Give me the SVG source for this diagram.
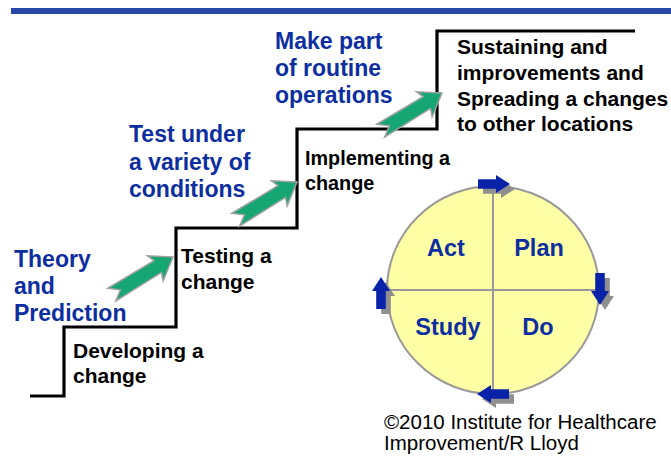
<svg xmlns="http://www.w3.org/2000/svg" width="671" height="457" viewBox="0 0 671 457">
<style>
.blue{font-family:"Liberation Sans",Arial,sans-serif;font-weight:bold;font-size:23px;fill:#0d2ea0}
.blk{font-family:"Liberation Sans",Arial,sans-serif;font-weight:bold;font-size:21px;fill:#000}
.pdsa{font-family:"Liberation Sans",Arial,sans-serif;font-weight:bold;font-size:23.5px;fill:#0d2ea0;text-anchor:middle}
.copy{font-family:"Liberation Sans",Arial,sans-serif;font-size:20.5px;fill:#000}
.garrow{fill:#16a673;stroke:#a0a0a0;stroke-width:1.5;stroke-linejoin:miter}
.barrow{fill:#0a22a8}
.bshadow{fill:#8f8f8f}
</style>
<defs>
<path id="ga" d="M0,0 L-21,-14.5 L-18,-7 L-72,-8 L-62,0 L-72,7 L-18,7 L-21,15 Z"/>
<path id="ba" d="M0,0 L-14,-9 L-14,-4.8 L-32,-4.8 L-32,4.8 L-14,4.8 L-14,9 Z"/>
</defs>
<rect x="11" y="8" width="660" height="6" fill="#2646a8"/>
<g id="stairs">
<path d="M30,396 H64 V327 H176 V228 H297 V129 H437 V31 H635" fill="none" stroke="#000" stroke-width="3.2"/>
</g>
<g id="connectors">
<use href="#ga" class="garrow" transform="translate(173,257) rotate(-32)"/>
<use href="#ga" class="garrow" transform="translate(297,182) rotate(-32)"/>
<use href="#ga" class="garrow" transform="translate(442,93) rotate(-32)"/>
</g>
<g id="theory">
<text class="blue" x="14" y="267">Theory</text>
<text class="blue" x="14" y="294">and</text>
<text class="blue" x="14" y="321">Prediction</text>
</g>
<g id="test-under">
<text class="blue" x="129" y="142">Test under</text>
<text class="blue" x="129" y="169.5">a variety of</text>
<text class="blue" x="129" y="197">conditions</text>
</g>
<g id="make-part">
<text class="blue" x="275" y="49">Make part</text>
<text class="blue" x="275" y="76">of routine</text>
<text class="blue" x="275" y="103">operations</text>
</g>
<g id="developing">
<text class="blk" x="73" y="358">Developing a</text>
<text class="blk" x="73" y="383">change</text>
</g>
<g id="testing">
<text class="blk" x="181" y="263">Testing a</text>
<text class="blk" x="181" y="289">change</text>
</g>
<g id="implementing">
<text class="blk" x="305" y="165" style="font-size:19.8px">Implementing a</text>
<text class="blk" x="305" y="190" style="font-size:19.8px">change</text>
</g>
<g id="sustaining">
<text class="blk" x="457" y="54">Sustaining and</text>
<text class="blk" x="457" y="80">improvements and</text>
<text class="blk" x="457" y="105.5">Spreading a changes</text>
<text class="blk" x="457" y="131">to other locations</text>
</g>
<g id="pdsa">
<ellipse cx="493" cy="290" rx="106" ry="104" fill="#ffffa5" stroke="#999" stroke-width="2"/>
<line x1="493" y1="186" x2="493" y2="394" stroke="#999" stroke-width="2"/>
<line x1="387" y1="290" x2="599" y2="290" stroke="#999" stroke-width="2"/>
<text class="pdsa" x="446" y="256">Act</text>
<text class="pdsa" x="539" y="256">Plan</text>
<text class="pdsa" x="448" y="335">Study</text>
<text class="pdsa" x="538" y="335">Do</text>
<use href="#ba" class="bshadow" transform="translate(515,189)"/>
<use href="#ba" class="barrow" transform="translate(510,184)"/>
<use href="#ba" class="bshadow" transform="translate(605,310) rotate(90)"/>
<use href="#ba" class="barrow" transform="translate(600,305) rotate(90)"/>
<use href="#ba" class="bshadow" transform="translate(482,399) rotate(180)"/>
<use href="#ba" class="barrow" transform="translate(477,394) rotate(180)"/>
<use href="#ba" class="bshadow" transform="translate(386,282) rotate(-90)"/>
<use href="#ba" class="barrow" transform="translate(381,277) rotate(-90)"/>
</g>
<g id="copyright">
<text class="copy" x="384" y="429">©2010 Institute for Healthcare</text>
<text class="copy" x="384" y="450">Improvement/R Lloyd</text>
</g>
</svg>
